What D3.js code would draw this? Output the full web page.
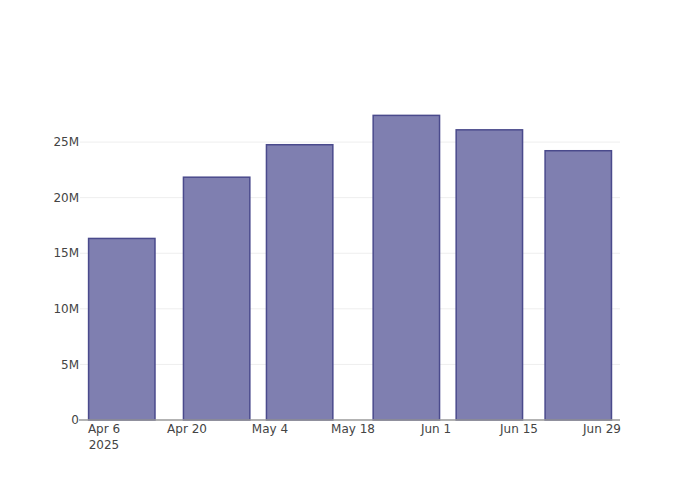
<!DOCTYPE html>
<html>
<head>
<meta charset="utf-8">
<script src="https://cdn.jsdelivr.net/npm/d3@7"></script>
<style>
  html, body { margin: 0; padding: 0; background: #fff; }
  svg { display: block; }
</style>
</head>
<body>
<svg id="chart" width="700" height="500"></svg>
<script>
// ---- data ----
const dates = ["2025-04-09", "2025-04-25", "2025-05-09", "2025-05-27", "2025-06-10", "2025-06-25"];
const values = [16330000, 21840000, 24760000, 27400000, 26100000, 24220000];
const xTickDates = ["2025-04-06", "2025-04-20", "2025-05-04", "2025-05-18", "2025-06-01", "2025-06-15", "2025-06-29"];
const xTickLabels = [["Apr 6", "2025"], ["Apr 20"], ["May 4"], ["May 18"], ["Jun 1"], ["Jun 15"], ["Jun 29"]];
const yTicks = [0, 5000000, 10000000, 15000000, 20000000, 25000000];
const yTickLabels = ["0", "5M", "10M", "15M", "20M", "25M"];

// ---- layout ----
const W = 700, H = 500;
const m = { l: 80, r: 80, t: 100, b: 80 };
const pw = W - m.l - m.r, ph = H - m.t - m.b;
const DAY = 86400000;
const parse = d3.utcParse("%Y-%m-%d");

const svg = d3.select("#chart");
const g = svg.append("g").attr("transform", `translate(${m.l},${m.t})`);

const t0 = parse(xTickDates[0]).getTime();
const pxPerDay = 83 / 14;
const x = d3.scaleUtc()
  .domain([new Date(t0 - (24 / pxPerDay) * DAY), new Date(t0 + ((pw - 24) / pxPerDay) * DAY)])
  .range([0, pw]);
const y = d3.scaleLinear().domain([0, d3.max(values) * 1.0505]).range([ph, 0]);

// gridlines
g.append("g").selectAll("line").data(yTicks.filter(v => v > 0)).join("line")
  .attr("x1", 0).attr("x2", pw)
  .attr("y1", d => y(d)).attr("y2", d => y(d))
  .attr("stroke", "#eeeeee").attr("stroke-width", 1);

// bars
const barDays = 14 * 0.8;
const data = dates.map((d, i) => ({ date: parse(d), value: values[i] }));
g.append("g").selectAll("rect").data(data).join("rect")
  .attr("x", d => x(new Date(d.date.getTime() - barDays / 2 * DAY)))
  .attr("width", d => x(new Date(d.date.getTime() + barDays / 2 * DAY)) - x(new Date(d.date.getTime() - barDays / 2 * DAY)))
  .attr("y", d => y(d.value))
  .attr("height", d => y(0) - y(d.value))
  .attr("fill", "#7f7fb0")
  .attr("stroke", "#4a4a8c")
  .attr("stroke-width", 1.5);

// x axis line
g.append("line").attr("x1", -1).attr("x2", pw).attr("y1", ph).attr("y2", ph)
  .attr("stroke", "#9a9a9a").attr("stroke-width", 1.5);

// y tick labels
g.append("g").selectAll("text").data(yTicks).join("text")
  .attr("x", -1).attr("y", d => y(d)).attr("dy", "0.35em")
  .attr("text-anchor", "end")
  .attr("font-family", "DejaVu Sans, Verdana, sans-serif").attr("font-size", 12)
  .attr("fill", "#444")
  .text((d, i) => yTickLabels[i]);

// x tick labels
const xt = g.append("g").selectAll("text").data(xTickDates).join("text")
  .attr("x", d => x(parse(d)))
  .attr("y", ph + 13)
  .attr("text-anchor", "middle")
  .attr("font-family", "DejaVu Sans, Verdana, sans-serif").attr("font-size", 12)
  .attr("fill", "#444");
xt.each(function(d, i) {
  const t = d3.select(this);
  xTickLabels[i].forEach((s, j) => {
    t.append("tspan").attr("x", x(parse(d))).attr("dy", j === 0 ? 0 : 16).text(s);
  });
});
</script>
</body>
</html>
